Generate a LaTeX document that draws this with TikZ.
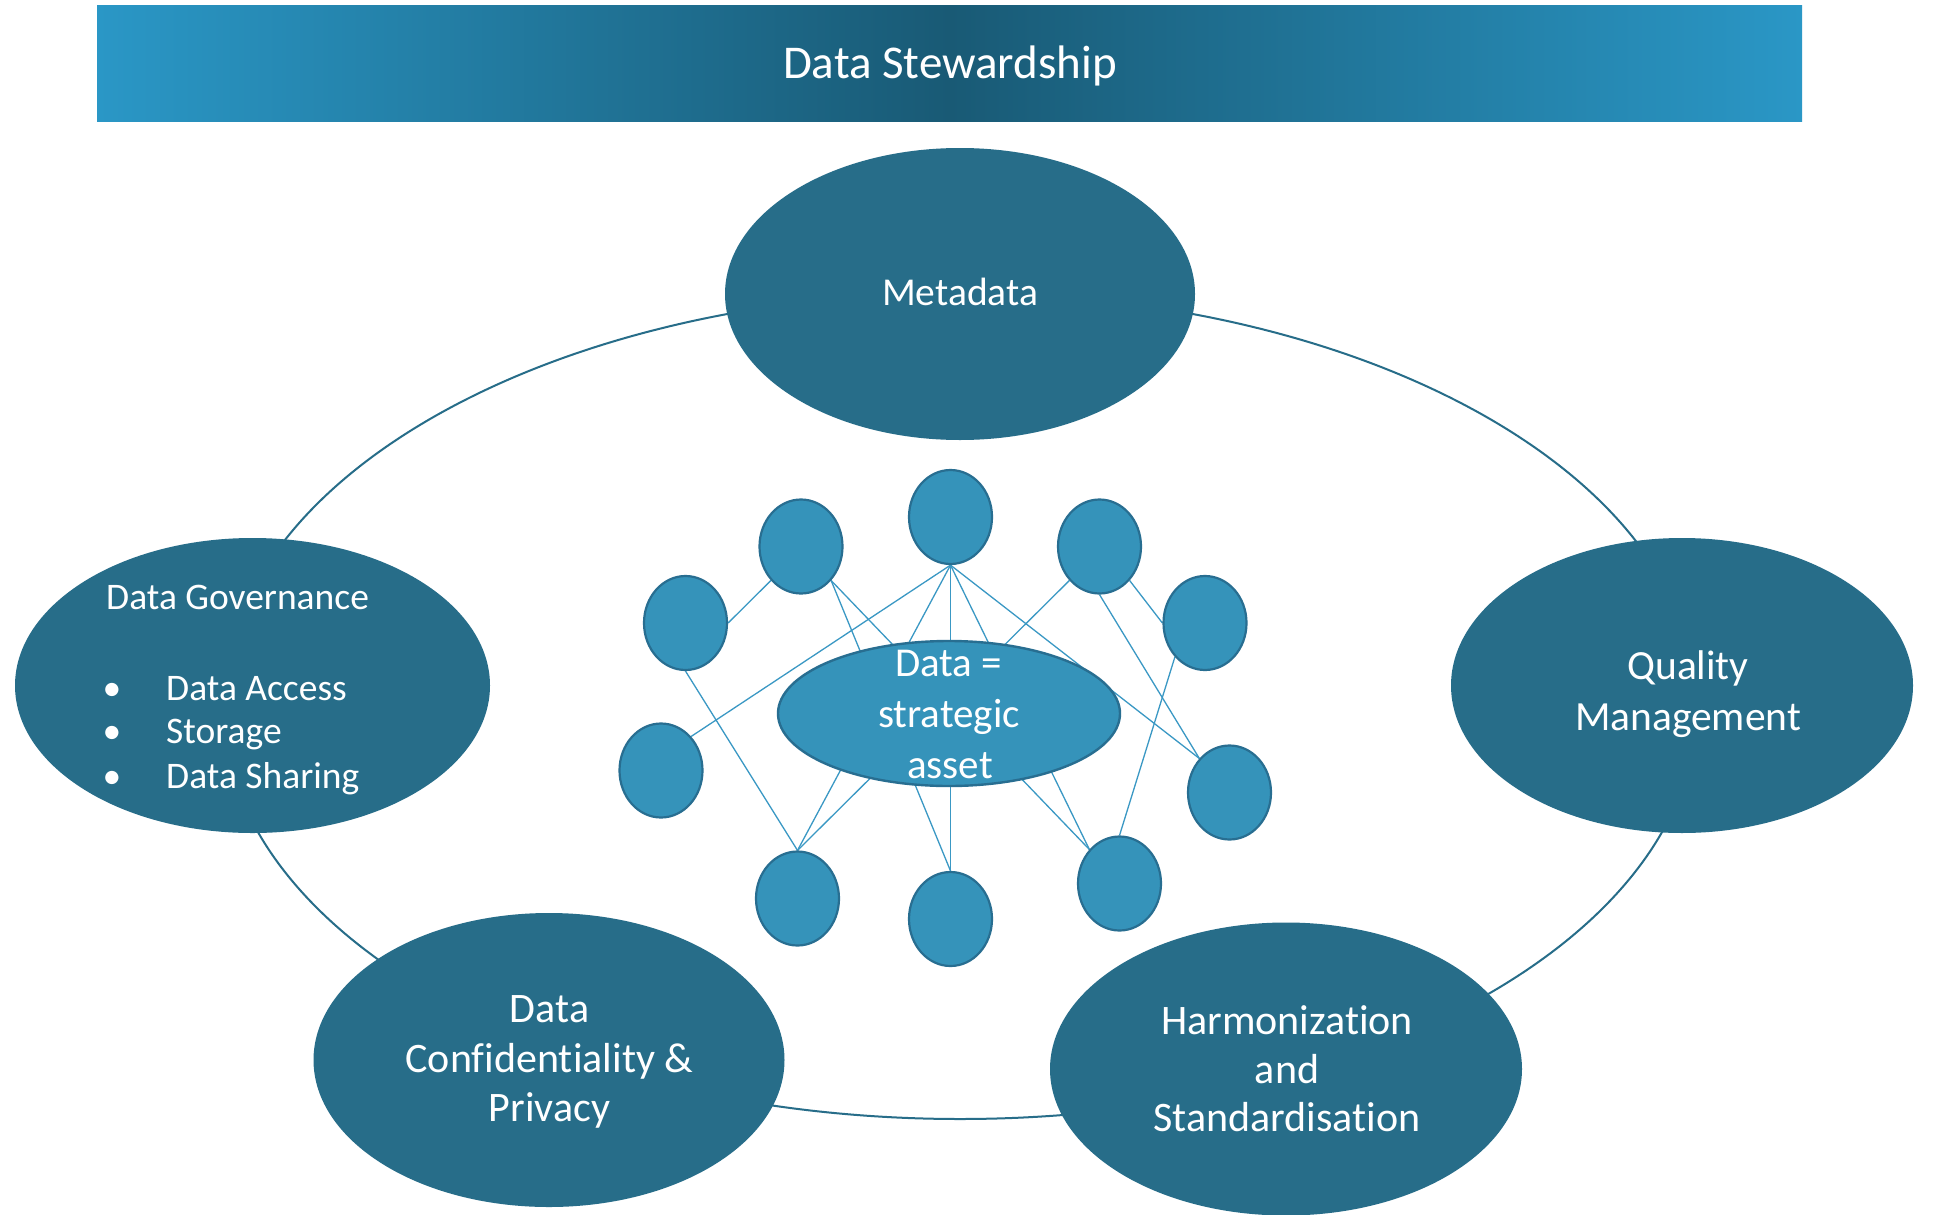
\documentclass[tikz,border=0pt]{standalone}
\usepackage{fontspec}
\setmainfont{Carlito}[Ligatures={NoCommon}]
\usetikzlibrary{shapes.geometric}
\definecolor{dteal}{RGB}{39,109,137}
\definecolor{lteal}{RGB}{53,147,186}
\definecolor{lstroke}{RGB}{40,110,145}
\definecolor{lline}{RGB}{58,152,196}
\definecolor{bedge}{RGB}{42,151,198}
\definecolor{bmid}{RGB}{25,90,117}
\pgfdeclarelayer{bottom}
\pgfdeclarelayer{bg}
\pgfsetlayers{bottom,bg,main}
\begin{document}
\begin{tikzpicture}[x=1pt,y=-1pt,
  bigell/.style={ellipse, fill=dteal, draw=none, inner sep=0pt},
  smallell/.style={ellipse, fill=lteal, draw=lstroke, line width=2.2pt, inner sep=0pt, minimum width=83pt, minimum height=94pt},
  net/.style={draw=lline, line width=1.3pt},
  ringline/.style={draw=dteal, line width=2pt, ellipse, inner sep=0pt, fill=none},
  wtxt/.style={text=white, inner sep=0pt, anchor=base},
  wtxtl/.style={text=white, inner sep=0pt, anchor=base west},
  fA/.style={font=\fontsize{37.5}{45}\selectfont},
  fM/.style={font=\fontsize{39.5}{47}\selectfont},
  fB/.style={font=\fontsize{42}{49}\selectfont},
  fQ/.style={font=\fontsize{41.5}{49}\selectfont},
  fC/.style={font=\fontsize{41}{51}\selectfont},
  fT/.style={font=\fontsize{47}{56}\selectfont}]
\useasboundingbox (0,0) rectangle (1933,1215);
\begin{pgfonlayer}{bottom}
\fill[white] (0,0) rectangle (1933,1215);
\end{pgfonlayer}

% banner
\node (banner) [rectangle, draw=none, inner sep=0pt, minimum width=1705pt, minimum height=115pt,
  left color=bedge, right color=bedge, middle color=bmid] at (949.5,63.5) {};
\node (title) [wtxt, fT] at (950,78.3) {Data Stewardship};

% ring
\begin{pgfonlayer}{bg}
\node (ring) [ringline, minimum width=1474pt, minimum height=826pt] at (960,706) {};
\end{pgfonlayer}

% outer ellipses
\node (meta) [bigell, minimum width=470pt, minimum height=292pt] at (960,294) {};
\node (gov)  [bigell, minimum width=475pt, minimum height=295pt] at (252.5,685.5) {};
\node (qual) [bigell, minimum width=462pt, minimum height=295pt] at (1682,685.5) {};
\node (conf) [bigell, minimum width=471pt, minimum height=294pt] at (549,1060) {};
\node (harm) [bigell, minimum width=472pt, minimum height=293pt] at (1286,1069) {};

\node (metaT) [wtxt, fM] at (960,305) {Metadata};

\node (govT) [wtxtl, fA] at (106,609) {Data Governance};
\node (gb1) [wtxt, fA] at (112,700) {\textbullet};
\node (gb2) [wtxt, fA] at (112,743) {\textbullet};
\node (gb3) [wtxt, fA] at (112,788) {\textbullet};
\node (gi1) [wtxtl, fA] at (166,700) {Data Access};
\node (gi2) [wtxtl, fA] at (166,743) {Storage};
\node (gi3) [wtxtl, fA] at (166,788) {Data Sharing};

\node (qualT1) [wtxt, fQ] at (1688,679) {Quality};
\node (qualT2) [wtxt, fQ] at (1688,730) {Management};

\node (confT1) [wtxt, fB] at (549.5,1022.7) {Data};
\node (confT2) [wtxt, fB] at (549.5,1072.7) {Confidentiality \&};
\node (confT3) [wtxt, fB] at (549.5,1121.7) {Privacy};

\node (harmT1) [wtxt, fB] at (1287,1034) {Harmonization};
\node (harmT2) [wtxt, fB] at (1287,1083) {and};
\node (harmT3) [wtxt, fB] at (1287,1131) {Standardisation};

% small circles
\node (c1)  [smallell] at (950.5,517) {};
\node (c2)  [smallell] at (801,546.5) {};
\node (c3)  [smallell] at (1099.5,546.5) {};
\node (c4)  [smallell] at (685.5,623) {};
\node (c5)  [smallell] at (1205,623) {};
\node (c6)  [smallell] at (661,770.5) {};
\node (c7)  [smallell] at (1229.5,792.5) {};
\node (c8)  [smallell] at (797.5,898.5) {};
\node (c9)  [smallell] at (950.5,919) {};
\node (c10) [smallell] at (1119.5,883.5) {};

% central ellipse
\node (core) [ellipse, fill=lteal, draw=lstroke, line width=2.4pt, inner sep=0pt,
  minimum width=342pt, minimum height=145pt] at (949,713.5) {};
\node (coreT1) [wtxt, fC] at (948.7,676.7) {Data =};
\node (coreT2) [wtxt, fC] at (949,727.3) {strategic};
\node (coreT3) [wtxt, fC] at (950,778) {asset};

% network lines
\begin{pgfonlayer}{bg}
\draw[net] (c4.east) -- (c2.south west);
\draw[net] (c4.south) -- (c8.north);
\draw[net] (c2.south east) -- (c9.north);
\draw[net] (c2.south east) -- (c10.north west);
\draw[net] (c1.south) -- (c6.north east);
\draw[net] (c1.south) -- (c8.north);
\draw[net] (c1.south) -- (c9.north);
\draw[net] (c1.south) -- (c10.north west);
\draw[net] (c1.south) -- (c7.north west);
\draw[net] (c3.south west) -- (c8.north);
\draw[net] (c3.south) -- (c7.north west);
\draw[net] (c3.south east) -- (c5.west);
\draw[net] (c5.south west) -- (c10.north);
\end{pgfonlayer}
\end{tikzpicture}
\end{document}
